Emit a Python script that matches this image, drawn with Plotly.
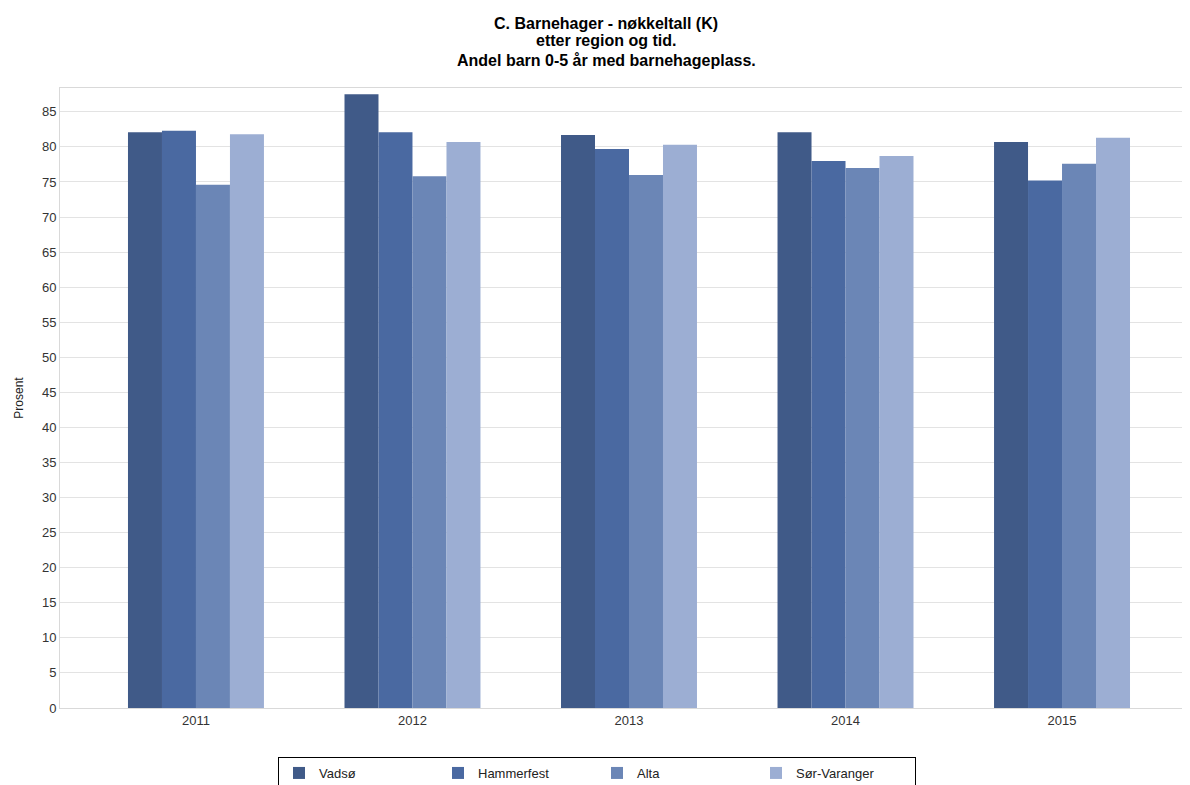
import plotly.graph_objects as go

years = ["2011", "2012", "2013", "2014", "2015"]
series_names = ["Vadsø", "Hammerfest", "Alta", "Sør-Varanger"]
vadso = [82.1, 87.5, 81.7, 82.1, 80.7]
hammerfest = [82.3, 82.1, 79.7, 78.0, 75.2]
alta = [74.6, 75.8, 76.0, 77.0, 77.6]
sor_varanger = [81.8, 80.7, 80.3, 78.7, 81.3]
y_ticks = list(range(0, 90, 5))
title_lines = ["C. Barnehager - nøkkeltall (K)", "etter region og tid.",
               "Andel barn 0-5 år med barnehageplass."]

colors = ["#405a88", "#4a69a1", "#6b86b6", "#9caed3"]
values = [vadso, hammerfest, alta, sor_varanger]

# page body has an 8px margin: the figure's origin is at (8, 8) on screen
OFF = 8
W, H = 1190 - OFF, 785 - OFF
L = 60 - OFF
T = 88 - OFF
B = H - (708 - OFF)
R = W - (1185 - OFF)
plot_h = H - T - B
plot_w = W - L - R


def px_x(xs):
    return (xs - 60) / plot_w


def px_y(ys):
    return (708 - ys) / plot_h


fig = go.Figure()
for name, vals, col in zip(series_names, values, colors):
    fig.add_trace(go.Bar(x=years, y=vals, name=name, marker=dict(color=col, line=dict(width=0))))

annotations = []
for line, ypix in zip(title_lines, [23, 41, 60]):
    annotations.append(dict(
        text=line, xref="paper", yref="paper",
        x=px_x(606), y=px_y(ypix),
        xanchor="center", yanchor="middle", showarrow=False,
        font=dict(family="Liberation Sans, Arial, sans-serif", size=16, color="#000000", weight="bold"),
    ))

fig.update_layout(
    width=W, height=H,
    paper_bgcolor="white", plot_bgcolor="white",
    barmode="group", bargap=0.372, bargroupgap=0,
    margin=dict(l=L, r=R, t=T, b=B, autoexpand=False),
    font=dict(family="Liberation Sans, Arial, sans-serif", size=12, color="#333333"),
    annotations=annotations,
    xaxis=dict(
        type="category", range=[-0.628, 4.568], automargin=False,
        showline=True, linecolor="#d9d9d9", linewidth=1, mirror=True,
        showgrid=False, ticks="", tickfont=dict(size=13, color="#333333"),
    ),
    yaxis=dict(
        range=[0, 88.4], tickvals=y_ticks, automargin=False,
        showline=True, linecolor="#d9d9d9", linewidth=1,
        showgrid=True, gridcolor="#e3e3e3", gridwidth=1,
        zeroline=False, ticks="", tickfont=dict(size=13, color="#333333"),
        title=dict(text="Prosent", font=dict(size=12, color="#222222"), standoff=15),
    ),
    legend=dict(
        orientation="h", x=px_x(278), xanchor="left",
        y=px_y(757), yanchor="top",
        bordercolor="#000000", borderwidth=1, bgcolor="white",
        entrywidth=114, entrywidthmode="pixels",
        font=dict(size=13, color="#222222"),
        traceorder="normal", itemsizing="constant",
    ),
)

fig.write_html("out.html")
